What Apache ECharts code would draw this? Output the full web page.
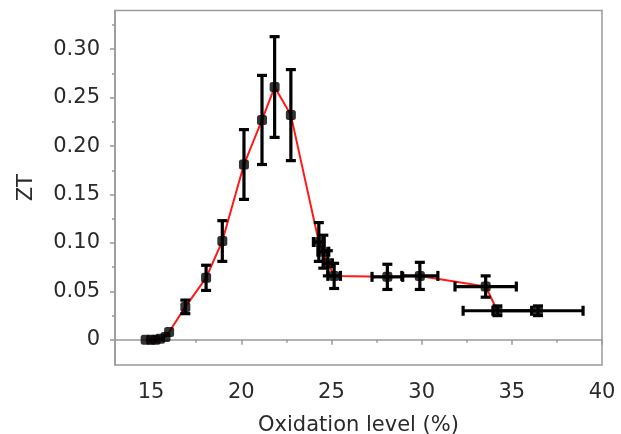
<!DOCTYPE html>
<html>
<head>
<meta charset="utf-8">
<script src="https://cdn.jsdelivr.net/npm/echarts@6/dist/echarts.min.js"></script>
<style>
html,body{margin:0;padding:0;background:#fff;}
#chart{width:621px;height:434px;}
</style>
</head>
<body>
<div id="chart"></div>
<script>
// Data
var oxidation = [14.7, 15.0, 15.25, 15.5, 15.8, 16.0, 16.9, 18.05, 18.95, 20.15, 21.15, 21.85, 22.75, 24.3, 24.55, 24.8, 25.15, 28.1, 29.9, 33.55, 34.2, 36.45];
var zt        = [0, 0, 0, 0.001, 0.003, 0.008, 0.034, 0.064, 0.102, 0.181, 0.227, 0.261, 0.232, 0.101, 0.091, 0.079, 0.066, 0.065, 0.066, 0.055, 0.030, 0.030];
var ztErr     = [0, 0, 0, 0, 0, 0, 0.007, 0.013, 0.021, 0.036, 0.046, 0.052, 0.047, 0.020, 0.017, 0.013, 0.013, 0.013, 0.014, 0.011, 0.005, 0.005];
var oxErr     = [0, 0, 0, 0, 0, 0, 0, 0, 0, 0, 0, 0, 0, 0.3, 0.3, 0.25, 0.35, 0.85, 1.0, 1.7, 1.9, 2.5];

var xMajorTicks = [15, 20, 25, 30, 35, 40];
var xMinorTicks = [17.5, 22.5, 27.5, 32.5, 37.5];
var yMajorTicks = [0, 0.05, 0.10, 0.15, 0.20, 0.25, 0.30];
var yMinorTicks = [0.025, 0.075, 0.125, 0.175, 0.225, 0.275, 0.325];

var xTitle = 'Oxidation level (%)';
var yTitle = 'ZT';

var points = oxidation.map(function (x, i) { return [x, zt[i]]; });
var errData = oxidation.map(function (x, i) { return [x, zt[i], oxErr[i], ztErr[i]]; });

var FONT = 'DejaVu Sans';
var AXIS_GRAY = '#9a9a9a';
var TEXT = '#2a2a2a';

function renderErr(params, api) {
  var x = api.value(0), y = api.value(1), ex = api.value(2), ey = api.value(3);
  var children = [];
  var style = { stroke: '#000', lineWidth: 3.2 };
  var cap = 5;
  if (ey > 0) {
    var top = api.coord([x, y + ey]);
    var bot = api.coord([x, y - ey]);
    children.push({ type: 'line', shape: { x1: top[0], y1: top[1], x2: bot[0], y2: bot[1] }, style: style });
    children.push({ type: 'line', shape: { x1: top[0] - cap, y1: top[1], x2: top[0] + cap, y2: top[1] }, style: style });
    children.push({ type: 'line', shape: { x1: bot[0] - cap, y1: bot[1], x2: bot[0] + cap, y2: bot[1] }, style: style });
  }
  if (ex > 0) {
    var l = api.coord([x - ex, y]);
    var r = api.coord([x + ex, y]);
    children.push({ type: 'line', shape: { x1: l[0], y1: l[1], x2: r[0], y2: r[1] }, style: style });
    children.push({ type: 'line', shape: { x1: l[0], y1: l[1] - cap, x2: l[0], y2: l[1] + cap }, style: style });
    children.push({ type: 'line', shape: { x1: r[0], y1: r[1] - cap, x2: r[0], y2: r[1] + cap }, style: style });
  }
  return { type: 'group', children: children };
}

var chart = echarts.init(document.getElementById('chart'), null, { renderer: 'canvas' });
chart.setOption({
  animation: false,
  backgroundColor: '#fff',
  grid: {
    left: 115, right: 19, top: 10.5, bottom: 69,
    outerBoundsMode: 'none', containLabel: false,
    show: true, borderColor: AXIS_GRAY, borderWidth: 1.5, backgroundColor: 'transparent'
  },
  xAxis: [{
    type: 'value', min: 13, max: 40, position: 'bottom',
    name: xTitle, nameLocation: 'middle', nameGap: 50,
    nameTextStyle: { fontFamily: FONT, fontSize: 21, color: TEXT },
    axisLine: { show: true, lineStyle: { color: AXIS_GRAY, width: 1.5 } },
    axisTick: { show: true, length: 5, customValues: xMajorTicks, lineStyle: { color: AXIS_GRAY, width: 1.5 } },
    axisLabel: { customValues: xMajorTicks, margin: 17, fontFamily: FONT, fontSize: 21, color: TEXT },
    splitLine: { show: false }
  }, {
    type: 'value', min: 13, max: 40, position: 'bottom',
    axisLine: { show: false },
    axisTick: { show: true, length: 3, customValues: xMinorTicks, lineStyle: { color: AXIS_GRAY, width: 1.5 } },
    axisLabel: { show: false },
    splitLine: { show: false }
  }],
  yAxis: [{
    type: 'value', min: -0.026, max: 0.34, position: 'left',
    name: yTitle, nameLocation: 'middle', nameGap: 78, nameRotate: 90,
    nameTextStyle: { fontFamily: FONT, fontSize: 21, color: TEXT },
    axisLine: { show: true, lineStyle: { color: AXIS_GRAY, width: 1.5 } },
    axisTick: { show: true, length: 5, customValues: yMajorTicks, lineStyle: { color: AXIS_GRAY, width: 1.5 } },
    axisLabel: {
      customValues: yMajorTicks, margin: 15, fontFamily: FONT, fontSize: 21, color: TEXT,
      formatter: function (v) { return v === 0 ? '0' : v.toFixed(2); }
    },
    splitLine: { show: false }
  }, {
    type: 'value', min: -0.026, max: 0.34, position: 'left',
    axisLine: { show: false },
    axisTick: { show: true, length: 3, customValues: yMinorTicks, lineStyle: { color: AXIS_GRAY, width: 1.5 } },
    axisLabel: { show: false },
    splitLine: { show: false }
  }],
  series: [{
    type: 'line', data: points, showSymbol: false, symbol: 'none',
    lineStyle: { color: '#ff1a1a', width: 2 }, z: 1
  }, {
    type: 'custom', data: errData, renderItem: renderErr, z: 2,
    encode: { x: 0, y: 1 }
  }, {
    type: 'scatter', data: points, symbol: 'roundRect', symbolSize: 10,
    itemStyle: { color: '#000' }, z: 3
  }]
});
</script>
</body>
</html>
